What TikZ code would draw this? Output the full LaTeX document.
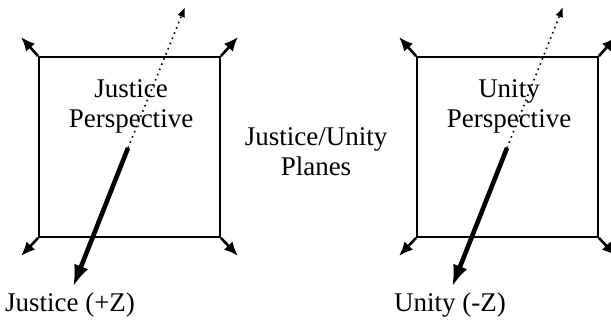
\documentclass[tikz,border=0pt]{standalone}
\usepackage{fontspec}
\setmainfont{Liberation Serif}
\usetikzlibrary{arrows.meta, positioning}

\begin{document}
\begin{tikzpicture}[
    x=0.5pt, y=-0.5pt,
    plane/.style={
        rectangle,
        draw,
        line width=0.9pt,
        minimum width=90.5pt,
        minimum height=90pt,
        inner sep=0pt
    },
    txt/.style={
        align=center,
        inner sep=0pt,
        font=\fontsize{13.5}{15}\selectfont
    },
    corner/.style={-{Latex[length=7pt, width=6pt]}, line width=1.3pt},
    zaxis/.style={-{Latex[length=11pt, width=7.5pt]}, line width=2.3pt},
    backaxis/.style={-{Latex[length=5pt, width=4pt]}, dotted, line width=0.8pt}
]
\useasboundingbox (0,0) rectangle (611,325);

% left plane
\node[plane] (justice_plane) at (129.5,147) {};
\node[txt] (justice_text) at (131,106) {Justice\\Perspective};

% right plane
\node[plane] (unity_plane) at (507.5,147) {};
\node[txt] (unity_text) at (509,106) {Unity\\Perspective};

\node[txt] (planes_text) at (316,152) {Justice/Unity\\Planes};

\node[txt] (justice_label) at (70,305) {Justice (+Z)};
\node[txt] (unity_label) at (450,305) {Unity (-Z)};

\coordinate (justice_origin) at (128,148);
\coordinate (justice_back) at (185,7);
\coordinate (justice_front) at (73,287);
\coordinate (unity_origin) at (507,148);
\coordinate (unity_back) at (563,7);
\coordinate (unity_front) at (452,287);

% corner arrows
\foreach \pl in {justice_plane, unity_plane} {
    \draw[corner] (\pl.north west) -- ++(-17,-19);
    \draw[corner] (\pl.north east) -- ++(17,-19);
    \draw[corner] (\pl.south west) -- ++(-17,18);
    \draw[corner] (\pl.south east) -- ++(17,18);
}

% z axes
\draw[backaxis] (justice_origin) -- (justice_back);
\draw[zaxis] (justice_origin) -- (justice_front);
\draw[backaxis] (unity_origin) -- (unity_back);
\draw[zaxis] (unity_origin) -- (unity_front);

\end{tikzpicture}
\end{document}
